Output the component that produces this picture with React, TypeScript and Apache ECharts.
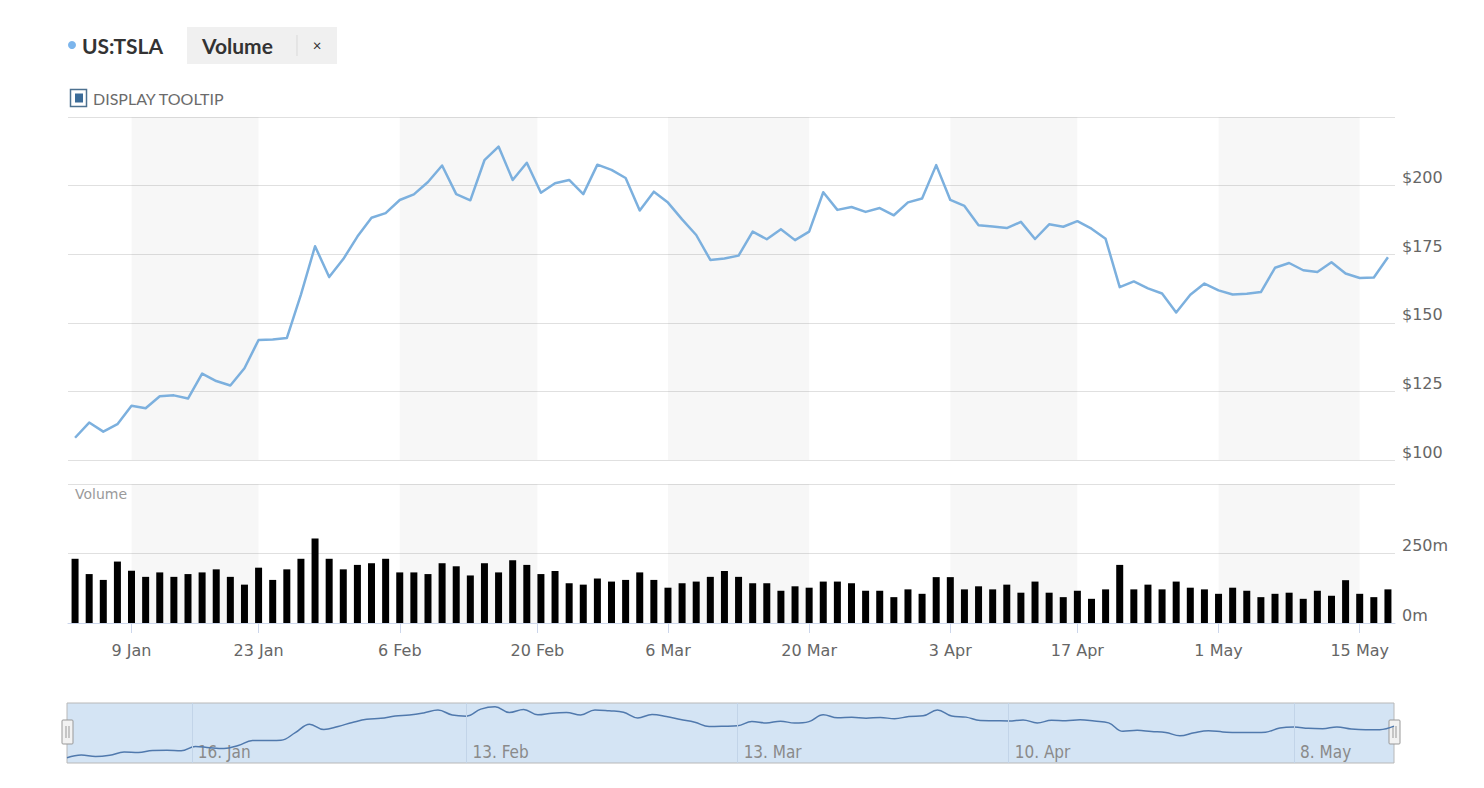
import React, { useEffect, useRef } from "react";
import * as echarts from "echarts";

// Trading days (ordinal x positions 0..93)
const dates: string[] = [
  "2023-01-03","2023-01-04","2023-01-05","2023-01-06","2023-01-09","2023-01-10","2023-01-11","2023-01-12","2023-01-13",
  "2023-01-17","2023-01-18","2023-01-19","2023-01-20","2023-01-23","2023-01-24","2023-01-25","2023-01-26","2023-01-27",
  "2023-01-30","2023-01-31","2023-02-01","2023-02-02","2023-02-03","2023-02-06","2023-02-07","2023-02-08","2023-02-09",
  "2023-02-10","2023-02-13","2023-02-14","2023-02-15","2023-02-16","2023-02-17","2023-02-21","2023-02-22","2023-02-23",
  "2023-02-24","2023-02-27","2023-02-28","2023-03-01","2023-03-02","2023-03-03","2023-03-06","2023-03-07","2023-03-08",
  "2023-03-09","2023-03-10","2023-03-13","2023-03-14","2023-03-15","2023-03-16","2023-03-17","2023-03-20","2023-03-21",
  "2023-03-22","2023-03-23","2023-03-24","2023-03-27","2023-03-28","2023-03-29","2023-03-30","2023-03-31","2023-04-03",
  "2023-04-04","2023-04-05","2023-04-06","2023-04-10","2023-04-11","2023-04-12","2023-04-13","2023-04-14","2023-04-17",
  "2023-04-18","2023-04-19","2023-04-20","2023-04-21","2023-04-24","2023-04-25","2023-04-26","2023-04-27","2023-04-28",
  "2023-05-01","2023-05-02","2023-05-03","2023-05-04","2023-05-05","2023-05-08","2023-05-09","2023-05-10","2023-05-11",
  "2023-05-12","2023-05-15","2023-05-16","2023-05-17"
];

const closes: number[] = [
  108.10, 113.64, 110.34, 113.06, 119.77, 118.85, 123.22, 123.56, 122.40, 131.49, 128.78, 127.17, 133.42, 143.75, 143.89, 144.43, 160.27, 177.90, 166.66, 173.22,
  181.41, 188.27, 189.98, 194.76, 196.81, 201.29, 207.32, 196.89, 194.64, 209.25, 214.24, 202.04, 208.31, 197.37, 200.86, 202.07, 196.88, 207.63, 205.71,
  202.77, 190.90, 197.79, 193.81, 187.71, 182.00, 172.92, 173.44, 174.48, 183.26, 180.45, 184.13, 180.13, 183.25, 197.58, 191.15, 192.22, 190.41, 191.81, 189.19, 193.88, 195.28, 207.46,
  194.77, 192.58, 185.52, 185.06, 184.51, 186.79, 180.54, 185.90, 185.00, 187.04, 184.31, 180.59, 162.99, 165.08, 162.55, 160.67, 153.75, 160.19, 164.31,
  161.83, 160.31, 160.61, 161.20, 170.06, 171.79, 169.15, 168.54, 172.08, 167.98, 166.35, 166.52, 173.86
];

// Volume in millions
const volumes: number[] = [
  231, 176, 155, 221, 188, 166, 182, 166, 176, 182, 193, 166, 138, 199, 155, 193, 231, 304, 231, 193,
  209, 215, 231, 182, 182, 176, 215, 204, 171, 215, 182, 226, 209,
  176, 187, 143, 138, 160, 149, 155, 182, 155, 127, 143, 149, 166, 187, 166, 143, 143, 116, 132, 127, 149, 149, 143, 116, 116, 93, 121, 105, 165, 165, 121, 132, 121, 138,
  109, 149, 109, 93, 116, 87, 121, 209, 121, 138, 121, 149, 127, 121, 105, 127, 116, 93, 105, 109, 87, 116, 98, 154, 105, 93, 121
];

// Main x-axis ticks (ordinal positions; holidays interpolated)
const xTickPositions: number[] = [4, 13, 23, 32.75, 42, 52, 62, 71, 81, 91];
const xTickLabels: string[] = ["9 Jan", "23 Jan", "6 Feb", "20 Feb", "6 Mar", "20 Mar", "3 Apr", "17 Apr", "1 May", "15 May"];

// Navigator ticks
const navTickPositions: number[] = [8.75, 28, 47, 66, 86];
const navTickLabels: string[] = ["16. Jan", "13. Feb", "13. Mar", "10. Apr", "8. May"];

const priceMin = 100;
const priceMax = 225;
const priceStep = 25;
const volMin = 0;
const volMax = 500;
const volStep = 250;
const navMin = 97;
const navMax = 222;

const AXIS_FONT = "'DejaVu Sans', Verdana, sans-serif";
const UI_FONT = "Lato, 'Open Sans', sans-serif";

export default function App() {
  const ref = useRef<HTMLDivElement>(null);

  useEffect(() => {
    document.body.style.margin = "0";
    document.body.style.overflow = "hidden";
    if (!ref.current) return;
    const chart = echarts.init(ref.current, undefined, { renderer: "svg" });

    const bands: any[] = [];
    for (let i = 0; i + 1 < xTickPositions.length; i += 2) {
      bands.push([{ xAxis: xTickPositions[i] }, { xAxis: xTickPositions[i + 1] }]);
    }
    const bandArea = {
      silent: true,
      itemStyle: { color: "rgba(0,0,0,0.032)" },
      label: { show: false },
      data: bands,
    };

    const xLabelFmt = (v: number) => {
      const k = xTickPositions.findIndex((p) => Math.abs(p - v) < 1e-6);
      return k >= 0 ? xTickLabels[k] : "";
    };
    const navLabelFmt = (v: number) => {
      const k = navTickPositions.findIndex((p) => Math.abs(p - v) < 1e-6);
      return k >= 0 ? navTickLabels[k] : "";
    };

    const handle = (x: number) => ({
      type: "group",
      children: [
        { type: "rect", shape: { x, y: 720, width: 11, height: 24, r: 1 }, style: { fill: "#f2f2f2", stroke: "#999", lineWidth: 1 } },
        { type: "line", shape: { x1: x + 4, y1: 726, x2: x + 4, y2: 738 }, style: { stroke: "#999", lineWidth: 1 } },
        { type: "line", shape: { x1: x + 7, y1: 726, x2: x + 7, y2: 738 }, style: { stroke: "#999", lineWidth: 1 } },
      ],
    });

    chart.setOption({
      animation: false,
      backgroundColor: "#ffffff",
      grid: [
        { left: 68, right: 89, top: 117, height: 343 },
        { left: 68, right: 89, top: 484, height: 139 },
        { left: 67, right: 90, top: 703, height: 60, show: true, backgroundColor: "#d4e4f4", borderColor: "#b8b8b8", borderWidth: 1 },
      ],
      xAxis: [
        {
          type: "value", gridIndex: 0, min: -0.5, max: dates.length - 0.5,
          axisLine: { show: false }, axisTick: { show: false }, axisLabel: { show: false }, splitLine: { show: false },
        },
        {
          type: "value", gridIndex: 1, min: -0.5, max: dates.length - 0.5,
          axisLine: { show: true, lineStyle: { color: "#ccd6eb", width: 1 } },
          axisTick: { show: true, customValues: xTickPositions, length: 10, lineStyle: { color: "#ccd6eb" } },
          axisLabel: {
            show: true, customValues: xTickPositions, formatter: xLabelFmt,
            color: "#666", fontSize: 16, fontFamily: AXIS_FONT, margin: 19,
          },
          splitLine: { show: false },
        },
        {
          type: "value", gridIndex: 2, min: 0, max: dates.length - 1,
          axisLine: { show: false }, axisTick: { show: false }, splitLine: { show: false },
          axisLabel: {
            show: true, inside: true, customValues: navTickPositions, formatter: navLabelFmt,
            align: "left", padding: [0, 0, 0, 6], margin: 3,
            color: "#8a8a8a", fontSize: 17, fontFamily: "'DejaVu Sans Condensed', 'Liberation Sans Narrow', 'DejaVu Sans', sans-serif",
          },
        },
      ],
      yAxis: [
        {
          type: "value", gridIndex: 0, position: "right", min: priceMin, max: priceMax, interval: priceStep,
          axisLine: { show: false }, axisTick: { show: false },
          splitLine: { show: true, lineStyle: { color: "#e0e0e0", width: 1 } },
          axisLabel: {
            showMaxLabel: false, formatter: (v: number) => "$" + v, color: "#666", fontSize: 16,
            fontFamily: AXIS_FONT, margin: 7, verticalAlign: "bottom", padding: [0, 0, 0, 0],
          },
        },
        {
          type: "value", gridIndex: 1, position: "right", min: volMin, max: volMax, interval: volStep,
          axisLine: { show: false }, axisTick: { show: false },
          splitLine: { show: true, lineStyle: { color: "#e0e0e0", width: 1 } },
          axisLabel: {
            showMaxLabel: false, formatter: (v: number) => v + "m", color: "#666", fontSize: 16,
            fontFamily: AXIS_FONT, margin: 7, verticalAlign: "bottom", padding: [0, 0, 0, 0],
          },
        },
        {
          type: "value", gridIndex: 2, min: navMin, max: navMax, show: false,
        },
      ],
      series: [
        {
          name: "US:TSLA", type: "line", xAxisIndex: 0, yAxisIndex: 0,
          data: closes.map((v, i) => [i, v]),
          showSymbol: false, symbol: "none",
          lineStyle: { color: "#7cb0de", width: 2.5, join: "round" },
          markArea: bandArea,
          z: 3,
        },
        {
          name: "Volume", type: "bar", xAxisIndex: 1, yAxisIndex: 1,
          data: volumes.map((v, i) => [i, v]),
          barWidth: 7,
          itemStyle: { color: "#000000" },
          markArea: bandArea,
        },
        {
          name: "Navigator", type: "line", xAxisIndex: 2, yAxisIndex: 2,
          data: closes.map((v, i) => [i, v]),
          showSymbol: false, symbol: "none", smooth: 0.4,
          lineStyle: { color: "#5079ad", width: 1.5 },
          markLine: {
            silent: true, symbol: "none", label: { show: false },
            lineStyle: { color: "#c2d4e8", width: 1, type: "solid" },
            data: navTickPositions.map((p) => ({ xAxis: p })),
          },
          z: 3,
        },
      ],
      graphic: [
        { type: "circle", shape: { cx: 72, cy: 45, r: 4 }, style: { fill: "#7cb5ec" } },
        { type: "text", x: 82, y: 45, style: { text: "US:TSLA", fill: "#333", font: `bold 21px ${UI_FONT}`, verticalAlign: "middle" } },
        { type: "rect", shape: { x: 187, y: 27, width: 150, height: 37 }, style: { fill: "#f0f0f0" } },
        { type: "text", x: 202, y: 45, style: { text: "Volume", fill: "#333", font: `bold 21px ${UI_FONT}`, verticalAlign: "middle" } },
        { type: "line", shape: { x1: 297, y1: 35, x2: 297, y2: 56 }, style: { stroke: "#d9d9d9", lineWidth: 1 } },
        { type: "text", x: 317, y: 45, style: { text: "×", fill: "#333", font: `15px ${UI_FONT}`, align: "center", verticalAlign: "middle" } },
        { type: "rect", shape: { x: 70.5, y: 89.5, width: 16, height: 17 }, style: { fill: "#fff", stroke: "#4d7190", lineWidth: 1.5 } },
        { type: "rect", shape: { x: 75, y: 93.5, width: 8, height: 9 }, style: { fill: "#3b6b98" } },
        { type: "text", x: 93, y: 98, style: { text: "DISPLAY TOOLTIP", fill: "#6b6b6b", font: `16px ${UI_FONT}`, verticalAlign: "middle" } },
        { type: "text", x: 75, y: 494, style: { text: "Volume", fill: "#9a9a9a", font: `14px ${AXIS_FONT}`, verticalAlign: "middle" } },
        handle(62),
        handle(1389),
      ],
    });

    return () => chart.dispose();
  }, []);

  return <div ref={ref} style={{ width: 1484, height: 788 }} />;
}
